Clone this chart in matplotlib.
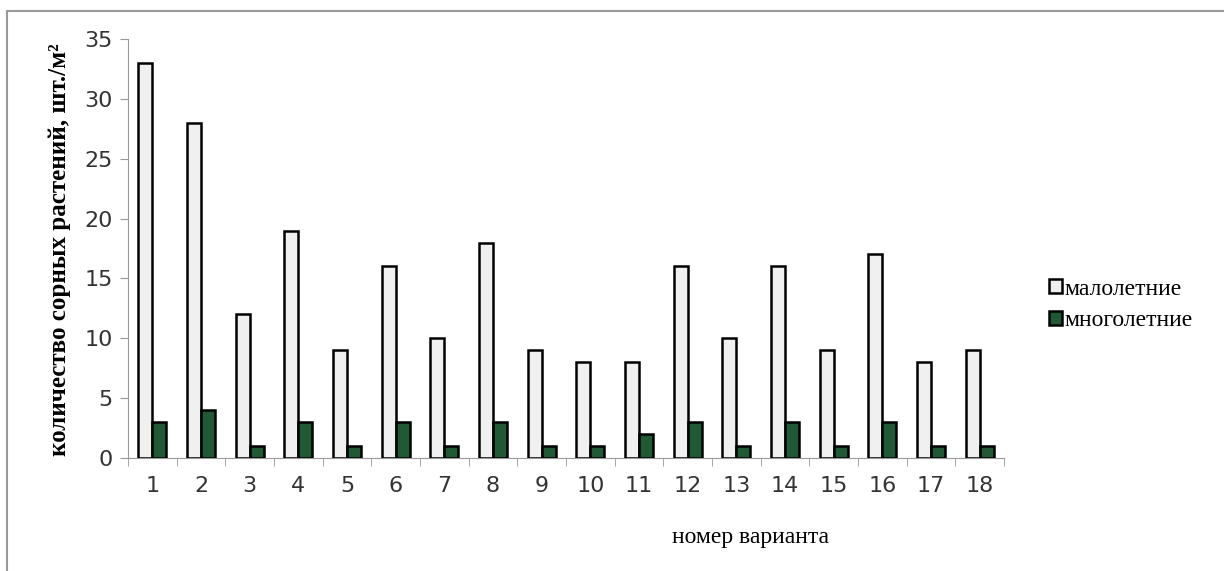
import numpy as np
import matplotlib.pyplot as plt
from matplotlib.patches import Rectangle

variants = [str(i) for i in range(1, 19)]
malolet = [33, 28, 12, 19, 9, 16, 10, 18, 9, 8, 8, 16, 10, 16, 9, 17, 8, 9]
mnogolet = [3, 4, 1, 3, 1, 3, 1, 3, 1, 1, 2, 3, 1, 3, 1, 3, 1, 1]
y_ticks = [0, 5, 10, 15, 20, 25, 30, 35]

fig = plt.figure(figsize=(12.24, 5.71), dpi=100)
ax = fig.add_axes([128 / 1224, 1 - 458 / 571, (1004 - 128) / 1224, (458 - 39) / 571])

# outer chart frame (runs off the right and bottom edges)
fig.patches.append(Rectangle((7 / 1224, -0.2), 1.1, 1.2 - 10.5 / 571, transform=fig.transFigure,
                             fill=False, edgecolor='#999999', linewidth=1.5))

x = np.arange(1, len(variants) + 1)
w = 0.29
ax.bar(x - w / 2, malolet, width=w, color='#f0f0f0', edgecolor='black', linewidth=1.8,
       label='малолетние', zorder=3)
ax.bar(x + w / 2, mnogolet, width=w, color='#1f5a34', edgecolor='black', linewidth=1.8,
       label='многолетние', zorder=3)

ax.set_xlim(0.5, len(variants) + 0.5)
ax.set_ylim(0, 35)
ax.set_yticks(y_ticks)
ax.set_xticks(x)
ax.set_xticklabels(variants)
ax.set_xticks(np.arange(0.5, len(variants) + 1, 1), minor=True)
ax.tick_params(axis='x', which='major', length=0, pad=13, labelsize=16, colors='#333333')
ax.tick_params(axis='x', which='minor', length=6, color='#999999', direction='out')
ax.tick_params(axis='y', length=6, color='#999999', labelsize=16, colors='#333333', pad=5)

for s in ['top', 'right']:
    ax.spines[s].set_visible(False)
ax.spines['left'].set_color('#999999')
ax.spines['bottom'].set_color('#999999')

fig.text(60 / 1224, 1 - 250 / 571, 'количество сорных растений, шт./м²', rotation=90,
         ha='center', va='center', fontsize=18, fontweight='bold', family='Liberation Serif')
fig.text(750 / 1224, 1 - 537 / 571, 'номер варианта', ha='center', va='center',
         fontsize=17, family='Liberation Serif')

leg = fig.legend(loc='center left', bbox_to_anchor=(1028 / 1224, 1 - 305 / 571), frameon=False,
                 prop={'family': 'Liberation Serif', 'size': 17}, handlelength=0.55, handleheight=0.55,
                 handletextpad=0.1, labelspacing=0.45)

fig.savefig('out.png', dpi=100)
